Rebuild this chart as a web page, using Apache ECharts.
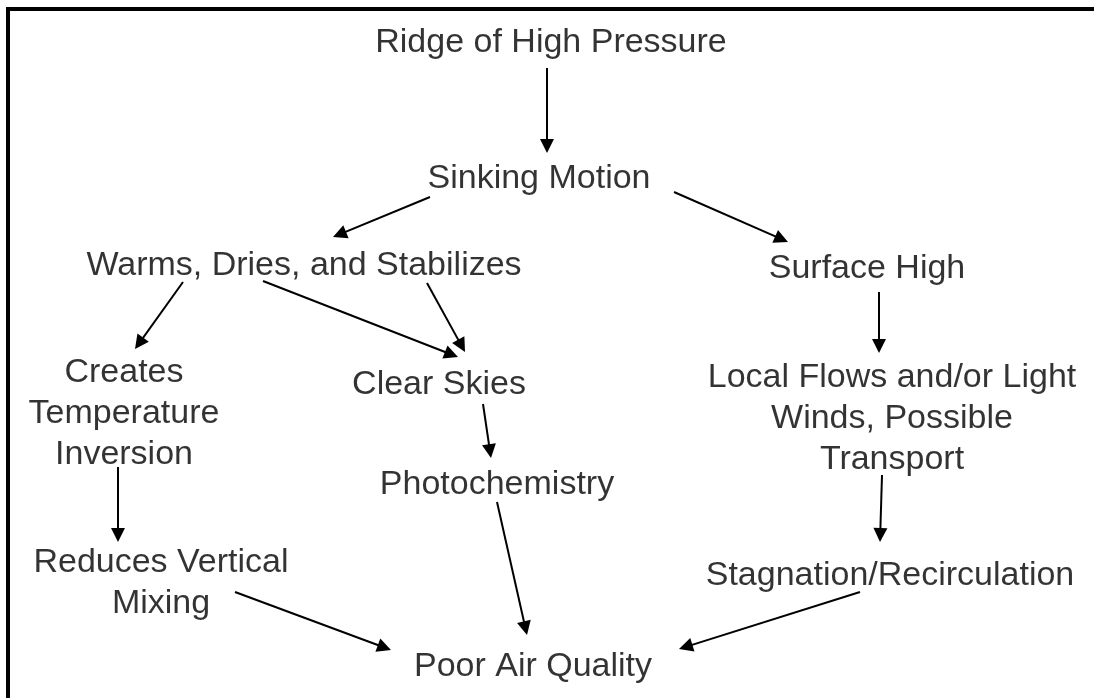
<!DOCTYPE html>
<html>
<head>
<meta charset="utf-8">
<script src="https://cdn.jsdelivr.net/npm/echarts@6/dist/echarts.min.js"></script>
<style>
  html, body { margin: 0; padding: 0; background: #fff; }
  #container { width: 1094px; height: 698px; }
</style>
</head>
<body>
<div id="container"></div>
<script>
// boxes of the diagram (text, centre x, centre y) -- y counted from the top
const nodeNames = [
  'Ridge of High Pressure',
  'Sinking Motion',
  'Warms, Dries, and Stabilizes',
  'Surface High',
  'Creates\nTemperature\nInversion',
  'Clear Skies',
  'Photochemistry',
  'Local Flows and/or Light\nWinds, Possible\nTransport',
  'Reduces Vertical\nMixing',
  'Stagnation/Recirculation',
  'Poor Air Quality'
]
const nodeX = [551, 539, 304, 867, 124, 439, 497, 892, 161, 890, 533]
const nodeY = [40, 176, 263, 266, 411, 382, 482, 416, 580, 573, 664]

// arrows: start point -> tip point
const arrowFrom = [
  [547, 68], [430, 197], [674, 192], [183, 282], [263, 281], [427, 283],
  [879, 292], [118, 467], [483, 404], [882, 475], [497, 502], [235, 592], [860, 592]
]
const arrowTo = [
  [547, 153], [333, 237], [788, 242], [135, 349], [458, 357], [465, 352],
  [879, 353], [118, 542], [491, 458], [880, 542], [527, 635], [391, 650], [679, 649]
]

const headLen = 14
const labelData = nodeNames.map((n, i) => ({ name: n, value: [nodeX[i], nodeY[i] + 3] }))
// the triangle is centred on the line end, so pull the end back by half the head
const arrowData = arrowFrom.map((p, i) => {
  const q = arrowTo[i]
  const dx = q[0] - p[0], dy = q[1] - p[1]
  const len = Math.sqrt(dx * dx + dy * dy)
  const k = (len - headLen / 2) / len
  return { coords: [p, [p[0] + dx * k, p[1] + dy * k]] }
})

const myChart = echarts.init(document.getElementById('container'))
myChart.setOption({
  animation: false,
  backgroundColor: '#ffffff',
  grid: { left: 0, right: 0, top: 0, bottom: 0 },
  xAxis: { type: 'value', min: 0, max: 1094, show: false },
  yAxis: { type: 'value', min: 0, max: 698, inverse: true, show: false },
  // frame: top and left edges only
  graphic: [{
    type: 'polyline',
    shape: { points: [[8, 698], [8, 9], [1094, 9]] },
    style: { stroke: '#000', lineWidth: 4, fill: null },
    z: 10
  }],
  series: [
    {
      type: 'lines',
      coordinateSystem: 'cartesian2d',
      symbol: ['none', 'triangle'],
      symbolSize: [11, headLen],
      lineStyle: { color: '#000', width: 2, opacity: 1, curveness: 0 },
      itemStyle: { color: '#000' },
      data: arrowData
    },
    {
      type: 'scatter',
      symbolSize: 0,
      data: labelData,
      label: {
        show: true,
        position: 'inside',
        formatter: p => p.name,
        fontFamily: 'Liberation Sans, Arial, sans-serif',
        fontSize: 34,
        lineHeight: 41,
        color: '#000',
        align: 'center',
        verticalAlign: 'middle'
      }
    }
  ]
})
</script>
</body>
</html>
